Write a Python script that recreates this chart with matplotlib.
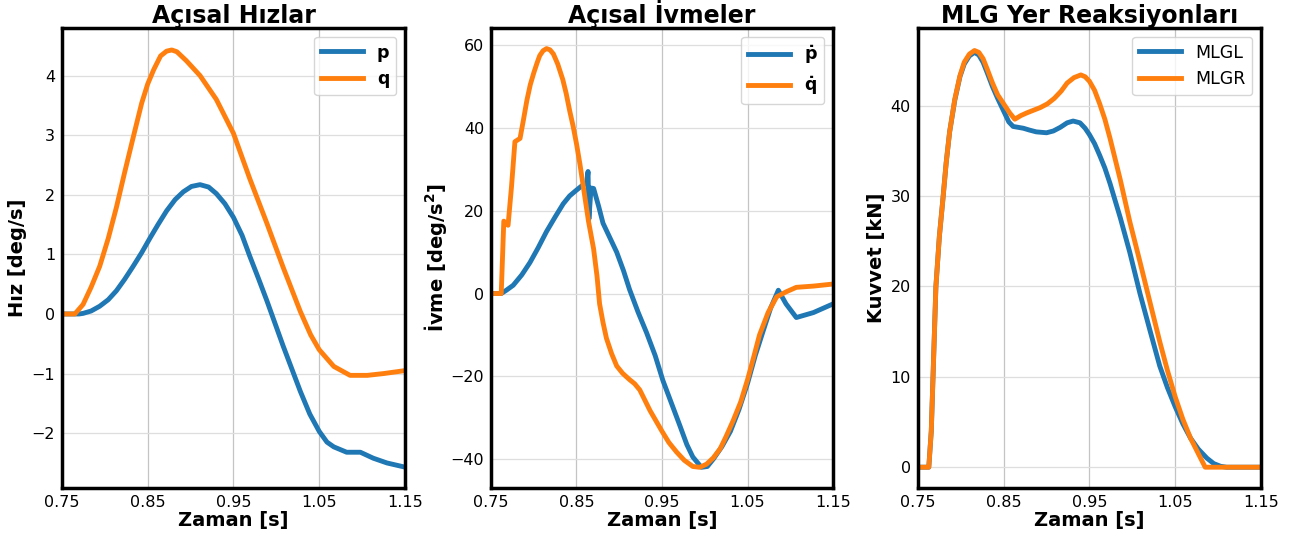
import matplotlib
matplotlib.use("Agg")
import matplotlib.pyplot as plt

# --- Açısal hızlar (deg/s) ---
t_p = [0.75, 0.77, 0.7746, 0.784, 0.794, 0.804, 0.8135, 0.823, 0.833, 0.843, 0.8525, 0.862,
       0.872, 0.882, 0.8915, 0.901, 0.911, 0.921, 0.930, 0.940, 0.95, 0.96, 0.969, 0.979,
       0.989, 1.008, 1.028, 1.039, 1.05, 1.059, 1.067, 1.082, 1.098, 1.113, 1.129, 1.15]
p = [0, 0, 0.01, 0.05, 0.13, 0.24, 0.39, 0.58, 0.8, 1.03, 1.27, 1.5,
     1.73, 1.92, 2.05, 2.14, 2.17, 2.13, 2.02, 1.85, 1.62, 1.32, 0.97, 0.6,
     0.22, -0.54, -1.3, -1.68, -1.97, -2.15, -2.23, -2.32, -2.32, -2.42, -2.5, -2.57]
t_q = [0.75, 0.765, 0.7746, 0.784, 0.794, 0.804, 0.8135, 0.823, 0.833, 0.843, 0.85, 0.857,
       0.865, 0.872, 0.878, 0.884, 0.895, 0.911, 0.930, 0.95, 0.969, 0.989, 1.008, 1.028,
       1.04, 1.05, 1.067, 1.086, 1.106, 1.125, 1.15]
q = [0, 0, 0.16, 0.45, 0.8, 1.27, 1.79, 2.37, 2.96, 3.54, 3.86, 4.1,
     4.33, 4.41, 4.43, 4.4, 4.25, 4.0, 3.6, 3.03, 2.27, 1.52, 0.78, 0.04,
     -0.35, -0.6, -0.88, -1.03, -1.03, -1.0, -0.95]

# --- Açısal ivmeler (deg/s^2) ---
t_pd = [0.75, 0.762, 0.768, 0.776, 0.786, 0.7956, 0.805, 0.815, 0.825, 0.8345, 0.842, 0.85,
        0.856, 0.862, 0.8635, 0.8645, 0.867, 0.870, 0.876, 0.881, 0.889, 0.897, 0.905, 0.912,
        0.922, 0.932, 0.942, 0.951, 0.961, 0.971, 0.979, 0.986, 0.996, 1.003, 1.01, 1.02,
        1.03, 1.04, 1.05, 1.059, 1.068, 1.077, 1.086, 1.095, 1.107, 1.127, 1.15]
pd_ = [0, 0, 0.8, 2, 4.5, 7.5, 11, 15, 18.5, 21.7, 23.6, 25,
       26, 26.7, 29.5, 18, 25.5, 25.4, 21, 17, 13.5, 10, 5.5, 1,
       -4.5, -9.5, -15, -21, -26.5, -32, -36.5, -39.5, -42, -41.8, -40, -37,
       -33.3, -28, -21.7, -15, -9.2, -3.5, 0.8, -2.5, -5.8, -4.6, -2.5]
t_qd = [0.75, 0.762, 0.765, 0.770, 0.774, 0.778, 0.784, 0.788, 0.792, 0.796, 0.800, 0.804,
        0.807, 0.811, 0.815, 0.819, 0.823, 0.828, 0.834, 0.838, 0.842, 0.846, 0.850, 0.854,
        0.858, 0.864, 0.870, 0.874, 0.877, 0.881, 0.885, 0.891, 0.897, 0.904, 0.912, 0.918,
        0.924, 0.930, 0.936, 0.943, 0.950, 0.958, 0.967, 0.976, 0.986, 0.994, 1.002, 1.010,
        1.018, 1.025, 1.033, 1.042, 1.050, 1.057, 1.064, 1.074, 1.084, 1.095, 1.107, 1.127, 1.15]
qd = [0, 0, 17.5, 16.5, 25.8, 36.7, 37.5, 42, 46.7, 50.5, 53.3, 55.8,
      57.5, 58.7, 59.2, 58.9, 57.9, 55.5, 51.7, 48.3, 44.2, 40.5, 36.2, 31.3,
      25.8, 17.5, 10.8, 4.2, -2.5, -7, -10.8, -14.5, -17.5, -19.3, -20.8, -21.8,
      -23.3, -25.8, -28.3, -30.8, -33.3, -36, -38.3, -40.3, -41.8, -42, -41.25, -39.7,
      -37.5, -34.5, -30.8, -26.2, -20.8, -15.5, -10, -4.6, -0.8, 0.4, 1.5, 1.8, 2.3]

# --- MLG yer reaksiyonları (kN) ---
t_l = [0.75, 0.7627, 0.7656, 0.771, 0.775, 0.779, 0.783, 0.787, 0.793, 0.799, 0.804, 0.810,
       0.816, 0.821, 0.826, 0.831, 0.837, 0.843, 0.85, 0.856, 0.861, 0.867, 0.873, 0.880,
       0.888, 0.9, 0.908, 0.916, 0.924, 0.931, 0.939, 0.945, 0.95, 0.956, 0.962, 0.968,
       0.974, 0.986, 0.997, 1.009, 1.021, 1.032, 1.041, 1.05, 1.059, 1.068, 1.077, 1.087,
       1.095, 1.103, 1.11, 1.15]
mlgl = [0, 0, 4, 20, 25.5, 29.5, 33.7, 37.1, 40.6, 43.2, 44.6, 45.5,
        45.9, 45.6, 44.8, 43.6, 42.1, 40.8, 39.4, 38.2, 37.7, 37.6, 37.5, 37.3,
        37.1, 37, 37.2, 37.6, 38.1, 38.3, 38.1, 37.5, 36.8, 35.8, 34.5, 33.1,
        31.4, 27.6, 23.8, 19.2, 15, 11.2, 8.8, 6.7, 4.8, 3.2, 2, 1,
        0.4, 0.1, 0, 0]
t_r = [0.75, 0.7627, 0.7656, 0.771, 0.775, 0.779, 0.783, 0.787, 0.793, 0.799, 0.804, 0.810,
       0.816, 0.821, 0.826, 0.831, 0.837, 0.843, 0.85, 0.857, 0.863, 0.870, 0.877, 0.885,
       0.893, 0.901, 0.909, 0.917, 0.924, 0.932, 0.94, 0.945, 0.95, 0.956, 0.962, 0.968,
       0.974, 0.986, 0.997, 1.009, 1.021, 1.032, 1.041, 1.05, 1.059, 1.068, 1.077, 1.085, 1.15]
mlgr = [0, 0, 4, 20, 25.5, 29.5, 33.7, 37.1, 40.7, 43.3, 44.8, 45.7,
        46.1, 45.9, 45.2, 44, 42.5, 41.2, 40.2, 39.2, 38.5, 38.9, 39.2, 39.5,
        39.8, 40.2, 40.8, 41.6, 42.5, 43.1, 43.4, 43.2, 42.7, 41.7, 40.2, 38.5,
        36.4, 31.8, 27.2, 22.7, 18.1, 13.9, 10.7, 7.8, 5.3, 3.2, 1.5, 0, 0]

xticks = [0.75, 0.85, 0.95, 1.05, 1.15]

fig = plt.figure(figsize=(12.91, 5.4), dpi=100)
ax1 = fig.add_axes([0.048, 0.0963, 0.2657, 0.852])
ax2 = fig.add_axes([0.3803, 0.0963, 0.265, 0.852])
ax3 = fig.add_axes([0.711, 0.0963, 0.2657, 0.852])

lw = 3.5
ax1.plot(t_p, p, color='#1f77b4', lw=lw, label='p')
ax1.plot(t_q, q, color='#ff7f0e', lw=lw, label='q')
ax1.set_ylim(-2.92, 4.8)
ax1.set_title('Açısal Hızlar', fontsize=17, fontweight='bold', pad=3)
ax1.set_ylabel('Hız [deg/s]', fontsize=14, fontweight='bold', labelpad=3)
ax1.legend(loc='upper right', prop={'weight': 'bold', 'size': 12.5}, handlelength=2.4)

ax2.plot(t_pd, pd_, color='#1f77b4', lw=lw, label=r'$\mathbf{\dot{p}}$')
ax2.plot(t_qd, qd, color='#ff7f0e', lw=lw, label=r'$\mathbf{\dot{q}}$')
ax2.set_ylim(-47, 64.2)
ax2.set_yticks([-40, -20, 0, 20, 40, 60])
ax2.set_title('Açısal İvmeler', fontsize=17, fontweight='bold', pad=3)
ax2.set_ylabel(r'İvme [deg/s$^\mathbf{2}$]', fontsize=14, fontweight='bold', labelpad=1)
ax2.legend(loc='upper right', prop={'weight': 'bold', 'size': 12.5}, handlelength=2.4)

ax3.plot(t_l, mlgl, color='#1f77b4', lw=lw, label='MLGL')
ax3.plot(t_r, mlgr, color='#ff7f0e', lw=lw, label='MLGR')
ax3.set_ylim(-2.3, 48.6)
ax3.set_title('MLG Yer Reaksiyonları', fontsize=17, fontweight='bold', pad=3)
ax3.set_ylabel('Kuvvet [kN]', fontsize=14, fontweight='bold', labelpad=3)
ax3.legend(loc='upper right', fontsize=12.5, handlelength=2.4)

for ax in (ax1, ax2, ax3):
    ax.set_xlim(0.75, 1.15)
    ax.set_xticks(xticks)
    ax.set_xticklabels(['0.75', '0.85', '0.95', '1.05', '1.15'])
    ax.set_xlabel('Zaman [s]', fontsize=14, fontweight='bold', labelpad=1)
    ax.tick_params(labelsize=11.5, length=0, pad=5)
    ax.grid(True, axis='x', color='#c4c4c4', lw=0.9)
    ax.grid(True, axis='y', color='#dedede', lw=0.9)
    for s in ax.spines.values():
        s.set_linewidth(2.5)
        s.set_color('black')

fig.savefig('out.png', dpi=100)
